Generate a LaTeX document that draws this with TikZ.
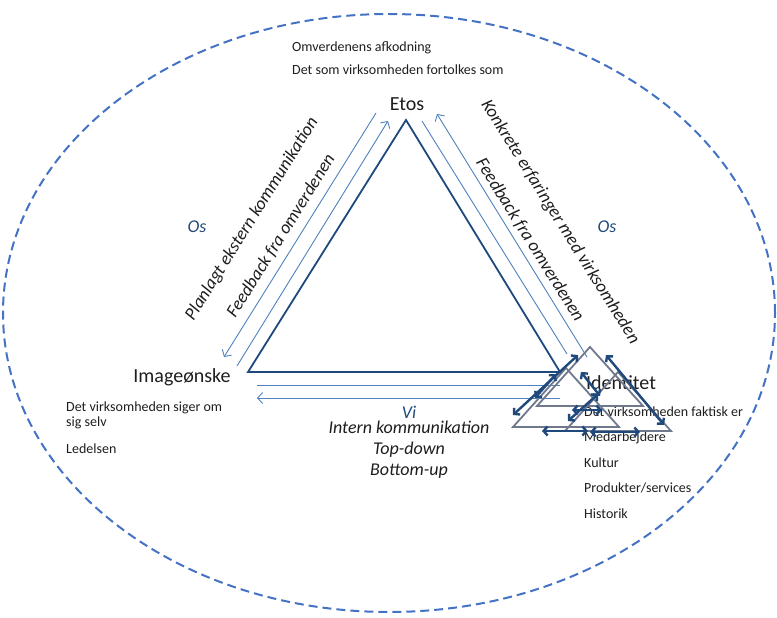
\documentclass[tikz,border=0pt]{standalone}
\usepackage{fontspec}
\setmainfont{Carlito}
\usetikzlibrary{calc, arrows, arrows.meta}
\definecolor{ringblue}{RGB}{68,114,196}
\definecolor{darkblue}{RGB}{31,73,125}
\definecolor{lightblue}{RGB}{79,129,189}
\definecolor{txtgray}{RGB}{30,30,30}
\definecolor{trigray}{RGB}{112,120,140}
\tikzstyle{corner}=[font=\fontsize{20}{24}\selectfont, text=txtgray, inner sep=0pt]
\tikzstyle{note}=[font=\fontsize{14}{16}\selectfont, text=txtgray, anchor=west, inner sep=0pt]
\tikzstyle{slant}=[font=\fontsize{18}{20}\selectfont\itshape, text=txtgray, inner sep=0pt]
\tikzstyle{who}=[font=\fontsize{18}{20}\selectfont\itshape, text=darkblue, inner sep=0pt]
\tikzstyle{flow}=[lightblue, line width=0.9pt, >={Straight Barb[length=5pt, width=11pt]}]
\tikzstyle{tri}=[draw=trigray, line width=1.8pt]
\tikzstyle{dbl}=[<->, darkblue, line width=2.4pt, >={Straight Barb[length=4pt, width=9pt]}]

\begin{document}
\begin{tikzpicture}[x=1pt,y=-1pt]
  \useasboundingbox (0,0) rectangle (777,618);
  \draw[ringblue, line width=2pt, dash pattern=on 9pt off 5pt] (389,313) ellipse [x radius=386pt, y radius=299pt];
  % main triangle
  \coordinate (etos) at (406,120);
  \coordinate (img) at (248,372);
  \coordinate (ident) at (560,372);
  \draw[darkblue, line width=1.8pt] (etos) -- (img) -- (ident) -- cycle;
  % corner labels
  \node[corner] (etosL) at (407,104) {Etos};
  \node[corner] (imgL) at (182,377) {Imageønske};
  \node[corner] (identL) at (621,383) {Identitet};
  \node[note] (afk) at (292,48) {Omverdenens afkodning};
  \node[note] (fortolk) at (292,70) {Det som virksomheden fortolkes som};
  \node[note] (siger) at (66,408) {Det virksomheden siger om};
  \node[note] (selv) at (66,423) {sig selv};
  \node[note] (ledelse) at (66,449) {Ledelsen};
  \node[note] (faktisk) at (584,412) {Det virksomheden faktisk er};
  \node[note] (medarb) at (584,438) {Medarbejdere};
  \node[note] (kultur) at (584,463) {Kultur};
  \node[note] (produkt) at (584,488) {Produkter/services};
  \node[note] (historik) at (584,514) {Historik};
  % who
  \node[who] (osL) at (197,227) {Os};
  \node[who] (osR) at (607,227) {Os};
  \node[who] (vi) at (409,412) {Vi};
  \node[slant] (intern) at (409,427) {Intern kommunikation};
  \node[slant] (topdown) at (409,450) {Top-down};
  \node[slant] (bottomup) at (409,471) {Bottom-up};
  \node[slant, rotate=58] (planlagt) at (252,219) {Planlagt ekstern kommunikation};
  \node[slant, rotate=58] (feedL) at (281,236) {Feedback fra omverdenen};
  \node[slant, rotate=-58] (konkret) at (560,222) {Konkrete erfaringer med virksomheden};
  \node[slant, rotate=-58] (feedR) at (530,240) {Feedback fra omverdenen};
  % flows
  \path (376,113) coordinate (ekstA) (224,357) coordinate (ekstB)
        (237,366) coordinate (fbLA) (388,121) coordinate (fbLB)
        (422,121) coordinate (fbRA) (567,354) coordinate (fbRB)
        (587,357) coordinate (konA) (437,114) coordinate (konB)
        (257,385) coordinate (intA) (560,385) coordinate (intB)
        (560,398) coordinate (intC) (257,398) coordinate (intD);
  \draw[flow, ->] (ekstA) -- (ekstB);
  \draw[flow, ->] (fbLA) -- (fbLB);
  \draw[flow] (fbRA) -- (fbRB);
  \draw[flow, ->] (konA) -- (konB);
  \draw[flow] (intA) -- (intB);
  \draw[flow, ->] (intC) -- (intD);
  % identity cluster
  \foreach \x/\y in {590/347, 566/368, 618/372}
    \draw[tri] (\x,\y) -- ++(-53,59) -- ++(106,0) -- cycle;
  \draw[dbl] (513,415) -- (578,355);
  \draw[dbl] (535,398) -- (556,374);
  \draw[dbl] (581,372) -- (600,396);
  \draw[dbl] (598,394) -- (568,421);
  \draw[dbl] (572,410) -- (602,410);
  \draw[dbl] (542,431) -- (588,431);
  \draw[dbl] (590,432) -- (640,432);
  \draw[dbl] (606,355) -- (664,425);
\end{tikzpicture}
\end{document}
